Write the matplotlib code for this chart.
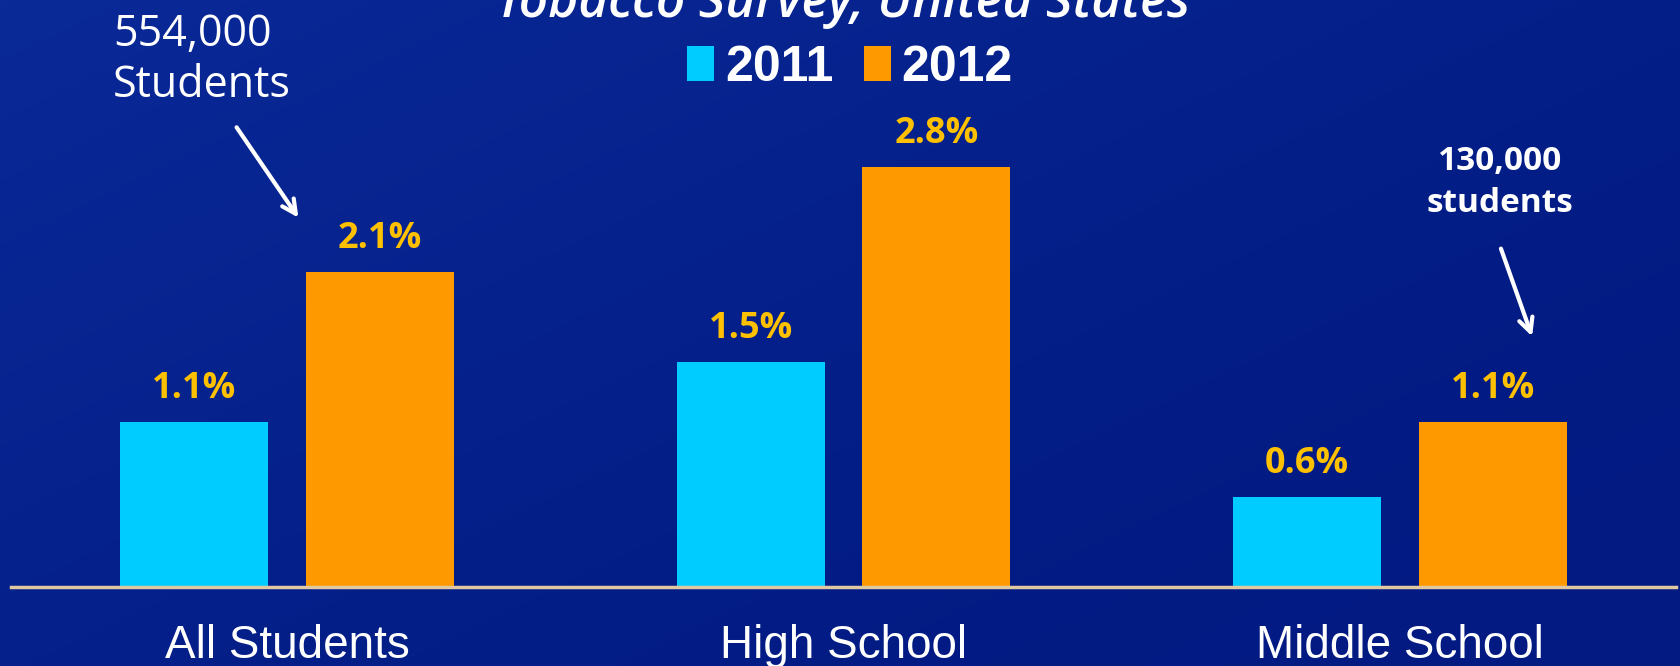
import numpy as np
import matplotlib.pyplot as plt
from matplotlib.colors import LinearSegmentedColormap

# Data
categories = ["All Students", "High School", "Middle School"]
years = ["2011", "2012"]
vals_2011 = [1.1, 1.5, 0.6]
vals_2012 = [2.1, 2.8, 1.1]
title = "Tobacco Survey, United States"

W, H = 1681, 666
fig = plt.figure(figsize=(W / 100, H / 100), dpi=100)

# background gradient
bg = fig.add_axes([0, 0, 1, 1], zorder=-10)
yy, xx = np.mgrid[0:1:200j, 0:1:400j]
grad = np.clip(0.55 * (1 - xx) + 0.45 * yy, 0, 1) ** 1.6
cmap_bg = LinearSegmentedColormap.from_list("bg", ["#021a82", "#0a2a98"])
bg.imshow(grad, cmap=cmap_bg, aspect="auto", origin="lower", extent=[0, 1, 0, 1])
bg.axis("off")

# main axes
ax = fig.add_axes([11 / W, 79 / H, 1665 / W, 587 / H])
ax.patch.set_alpha(0)
x = np.arange(len(categories))
w = 0.266
off = 0.167
b1 = ax.bar(x - off, vals_2011, w, color="#00ccff", label=years[0])
b2 = ax.bar(x + off, vals_2012, w, color="#ff9900", label=years[1])
ax.set_xlim(-0.496, 2.496)
ax.set_ylim(0, 587 / 150)

for bars, vals in [(b1, vals_2011), (b2, vals_2012)]:
    for r, v in zip(bars, vals):
        ax.annotate(f"{v}%", (r.get_x() + r.get_width() / 2, v), xytext=(0, 11),
                    textcoords="offset points", ha="center", va="bottom",
                    color="#ffc000", fontsize=26, fontweight="bold", family="Open Sans")

for s in ["top", "left", "right"]:
    ax.spines[s].set_visible(False)
ax.spines["bottom"].set_color("#e0c9a0")
ax.spines["bottom"].set_linewidth(2.5)
ax.set_yticks([])
ax.set_xticks(x)
ax.set_xticklabels(categories, color="white", fontsize=33, family="Liberation Sans")
ax.tick_params(axis="x", length=0, pad=27)

# legend
fig.legend(handles=[b1, b2], loc="center", bbox_to_anchor=(850 / W, 598 / H),
           ncol=2, frameon=False, handlelength=0.54, handleheight=0.72,
           handletextpad=0.22, columnspacing=0.6, borderpad=0,
           prop={"family": "Liberation Sans", "weight": "bold", "size": 36},
           labelcolor="white")

# title (cut off at the top)
fig.text(843 / W, (H - 17) / H, title, ha="center", va="baseline", color="white",
         fontsize=37, fontstyle="italic", fontweight="semibold", family="Open Sans")

# annotations
fig.text(113 / W, (H - 12) / H, "554,000\nStudents", ha="left", va="top", color="white",
         fontsize=31, family="Open Sans", linespacing=1.22)
ax.annotate("", xy=(300, H - 220), xycoords="figure pixels",
            xytext=(235, H - 125), textcoords="figure pixels",
            arrowprops=dict(arrowstyle="->,head_length=1.0,head_width=0.5", color="white", lw=3))

fig.text(1500 / W, (H - 145) / H, "130,000\nstudents", ha="center", va="top", color="white",
         fontsize=24, fontweight="bold", family="Open Sans", linespacing=1.35)
ax.annotate("", xy=(1533, H - 339), xycoords="figure pixels",
            xytext=(1500, H - 246), textcoords="figure pixels",
            arrowprops=dict(arrowstyle="->,head_length=1.0,head_width=0.5", color="white", lw=3))

fig.savefig("out.png", dpi=100)
